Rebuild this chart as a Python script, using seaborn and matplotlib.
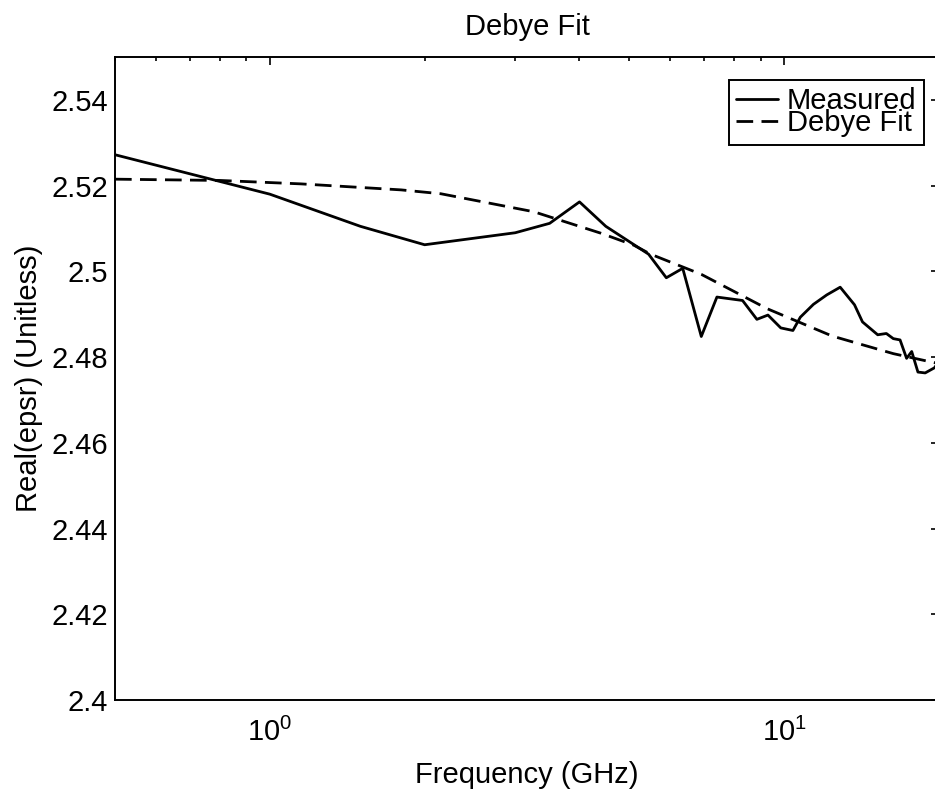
import matplotlib
matplotlib.use("Agg")
import matplotlib.pyplot as plt
import matplotlib.ticker as mticker
import seaborn as sns
import pandas as pd

# ---- data ----
freq_meas = [0.5, 1.0, 1.5, 2.0, 3.0, 3.5, 4.0, 4.5, 5.45, 5.9, 6.35, 6.9, 7.4,
             8.3, 8.85, 9.3, 9.85, 10.4, 10.75, 11.4, 12.1, 12.85, 13.7, 14.2,
             15.2, 15.8, 16.3, 16.8, 17.3, 17.7, 18.2, 18.8, 19.6, 20.0]
eps_meas = [2.5272, 2.5180, 2.5105, 2.5062, 2.5090, 2.5112, 2.5162, 2.5105,
            2.5040, 2.4985, 2.5007, 2.4848, 2.4940, 2.4932, 2.4888, 2.4898,
            2.4868, 2.4862, 2.4893, 2.4923, 2.4945, 2.4963, 2.4922, 2.4882,
            2.4852, 2.4855, 2.4843, 2.4840, 2.4797, 2.4813, 2.4765, 2.4763,
            2.4775, 2.4790]

freq_fit = [0.5, 0.8, 1.15, 1.8, 2.15, 3.26, 4.4, 5.1, 5.5, 6.9, 9.26, 12.4,
            16.3, 19.4, 20.0]
eps_fit = [2.5215, 2.5212, 2.5204, 2.5190, 2.5181, 2.5139, 2.5089, 2.5061,
           2.5040, 2.4993, 2.4913, 2.4849, 2.4808, 2.4788, 2.4785]

series_labels = ["Measured", "Debye Fit"]
yticks = [2.4, 2.42, 2.44, 2.46, 2.48, 2.5, 2.52, 2.54]

df_meas = pd.DataFrame({"freq": freq_meas, "eps": eps_meas})
df_fit = pd.DataFrame({"freq": freq_fit, "eps": eps_fit})

sns.set_style("white")
plt.rcParams["font.family"] = ["Liberation Sans", "DejaVu Sans"]
plt.rcParams["mathtext.default"] = "regular"
plt.rcParams["mathtext.fontset"] = "custom"
plt.rcParams["mathtext.rm"] = "Liberation Sans"
plt.rcParams["mathtext.it"] = "Liberation Sans"
plt.rcParams["text.color"] = "black"
plt.rcParams["axes.labelcolor"] = "black"
plt.rcParams["xtick.color"] = "black"
plt.rcParams["ytick.color"] = "black"

FS = 21

fig = plt.figure(figsize=(9.35, 7.93), dpi=100)
ax = fig.add_axes([115 / 935, 1 - 700 / 793, (939 - 115) / 935, (700 - 57) / 793])

sns.lineplot(data=df_meas, x="freq", y="eps", color="black", lw=2.0,
             label=series_labels[0], ax=ax)
sns.lineplot(data=df_fit, x="freq", y="eps", color="black", lw=2.0,
             linestyle=(0, (6, 3)), label=series_labels[1], ax=ax)

ax.set_xscale("log")
ax.set_xlim(0.5, 20)
ax.set_ylim(2.4, 2.55)
ax.set_yticks(yticks)
ax.yaxis.set_major_formatter(mticker.FuncFormatter(lambda v, p: f"{v:g}"))
ax.xaxis.set_major_locator(mticker.LogLocator(base=10, numticks=10))
ax.xaxis.set_minor_locator(mticker.LogLocator(base=10, subs=range(2, 10), numticks=20))
ax.xaxis.set_minor_formatter(mticker.NullFormatter())

for s in ax.spines.values():
    s.set_linewidth(1.4)
    s.set_color("black")

ax.tick_params(axis="both", which="both", direction="in", top=True, right=True,
               colors="black", width=1.2)
ax.tick_params(axis="both", which="major", length=6, labelsize=FS)
ax.tick_params(axis="both", which="minor", length=3)
ax.tick_params(axis="x", which="major", pad=13)
ax.tick_params(axis="y", which="major", pad=5)

ax.set_xlabel("Frequency (GHz)", fontsize=FS, labelpad=10, color="black")
ax.set_ylabel("Real(epsr) (Unitless)", fontsize=FS, labelpad=6, color="black")
ax.set_title("Debye Fit", fontsize=FS, pad=16, color="black")

leg = ax.legend(loc="upper right", bbox_to_anchor=(924 / 935, 1 - 80 / 793),
                bbox_transform=fig.transFigure, fontsize=FS,
                handlelength=1.45, handletextpad=0.3, labelspacing=-0.2,
                borderpad=0.25, borderaxespad=0.0, fancybox=False,
                framealpha=1, edgecolor="black")
leg.get_frame().set_linewidth(1.4)
for t in leg.get_texts():
    t.set_color("black")

fig.savefig("out.png", dpi=100)
